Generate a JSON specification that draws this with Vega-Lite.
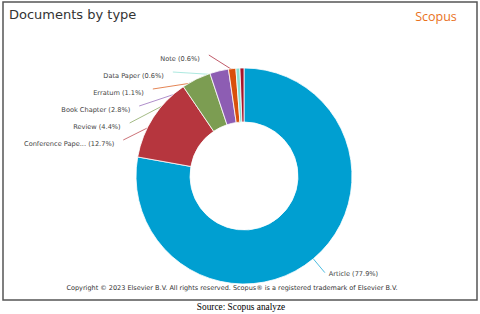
{
  "$schema": "https://vega.github.io/schema/vega-lite/v6.json",
  "autosize": {"type": "none"},
  "padding": {"left": 3, "top": 2, "right": 3, "bottom": 14},
  "width": 474,
  "height": 298,
  "background": "white",
  "config": {"view": {"stroke": "#555", "strokeWidth": 1.5}},
  "title": {"text": "Documents by type", "anchor": "start", "frame": "group", "orient": "top", "offset": 0, "dx": 6, "dy": 20, "font": "DejaVu Sans", "fontSize": 13, "fontWeight": "normal", "color": "#333"},
  "layer": [
    {
      "data": {"values": [
        {"type": "Article", "label": "Article (77.9%)", "pct": 77.9},
        {"type": "Conference Paper", "label": "Conference Pape... (12.7%)", "pct": 12.7},
        {"type": "Review", "label": "Review (4.4%)", "pct": 4.4},
        {"type": "Book Chapter", "label": "Book Chapter (2.8%)", "pct": 2.8},
        {"type": "Erratum", "label": "Erratum (1.1%)", "pct": 1.1},
        {"type": "Data Paper", "label": "Data Paper (0.6%)", "pct": 0.6},
        {"type": "Note", "label": "Note (0.6%)", "pct": 0.6}
      ]},
      "transform": [
        {"window": [{"op": "row_number", "as": "rank"}]},
        {"window": [{"op": "sum", "field": "pct", "as": "cum"}], "sort": [{"field": "rank"}], "frame": [null, 0]},
        {"joinaggregate": [{"op": "sum", "field": "pct", "as": "total"}]},
        {"calculate": "(datum.cum - datum.pct/2) / datum.total * 2 * PI", "as": "mid"},
        {"calculate": "100 * sin(datum.mid)", "as": "ax"},
        {"calculate": "100 * cos(datum.mid)", "as": "ay"},
        {"calculate": "datum.mid < PI ? 'right' : 'left'", "as": "side"},
        {"calculate": "datum.side == 'right' ? 126 * cos(datum.mid) : 36 + 17 * (datum.rank - 2)", "as": "ly"},
        {"calculate": "(datum.side == 'right' ? 1 : -1) * sqrt(max(126*126 - datum.ly*datum.ly, 0))", "as": "lx"}
      ],
      "layer": [
        {
          "mark": {"type": "rule", "strokeWidth": 0.7},
          "encoding": {
            "x": {"field": "lx", "type": "quantitative", "scale": {"domain": [-241, 233], "nice": false, "zero": false}, "axis": null},
            "y": {"field": "ly", "type": "quantitative", "scale": {"domain": [-124, 174], "nice": false, "zero": false}, "axis": null},
            "x2": {"field": "ax"},
            "y2": {"field": "ay"},
            "color": {"field": "type", "type": "nominal", "legend": null,
              "scale": {"domain": ["Article", "Conference Paper", "Review", "Book Chapter", "Erratum", "Data Paper", "Note"],
                        "range": ["#009FD1", "#B6363E", "#7C9D52", "#8D5DB3", "#D9500B", "#89E0D2", "#A5142A"]}}
          }
        },
        {
          "mark": {"type": "arc", "radius": 108, "radius2": 54, "stroke": "white", "strokeWidth": 0.8},
          "encoding": {
            "x": {"datum": 0, "type": "quantitative", "scale": {"domain": [-241, 233], "nice": false, "zero": false}, "axis": null},
            "y": {"datum": 0, "type": "quantitative", "scale": {"domain": [-124, 174], "nice": false, "zero": false}, "axis": null},
            "theta": {"field": "pct", "type": "quantitative", "stack": true},
            "order": {"field": "rank", "type": "quantitative"},
            "color": {"field": "type", "type": "nominal", "legend": null}
          }
        },
        {
          "transform": [{"filter": "datum.side == 'left'"}],
          "mark": {"type": "text", "align": "right", "baseline": "middle", "dx": -9, "dy": 3.5, "font": "DejaVu Sans", "fontSize": 6.6, "color": "#444"},
          "encoding": {
            "x": {"field": "lx", "type": "quantitative", "scale": {"domain": [-241, 233], "nice": false, "zero": false}, "axis": null},
            "y": {"field": "ly", "type": "quantitative", "scale": {"domain": [-124, 174], "nice": false, "zero": false}, "axis": null},
            "text": {"field": "label"}
          }
        },
        {
          "transform": [{"filter": "datum.side == 'right'"}],
          "mark": {"type": "text", "align": "left", "baseline": "middle", "dx": 4, "dy": 1.5, "font": "DejaVu Sans", "fontSize": 6.6, "color": "#444"},
          "encoding": {
            "x": {"field": "lx", "type": "quantitative", "scale": {"domain": [-241, 233], "nice": false, "zero": false}, "axis": null},
            "y": {"field": "ly", "type": "quantitative", "scale": {"domain": [-124, 174], "nice": false, "zero": false}, "axis": null},
            "text": {"field": "label"}
          }
        }
      ]
    },
    {
      "data": {"values": [{"t": "Scopus"}]},
      "mark": {"type": "text", "x": 433, "y": 15, "align": "center", "baseline": "middle", "font": "Open Sans", "fontSize": 12.5, "color": "#E9711C"},
      "encoding": {"text": {"field": "t"}}
    },
    {
      "data": {"values": [{"t": "Copyright © 2023 Elsevier B.V. All rights reserved. Scopus® is a registered trademark of Elsevier B.V."}]},
      "mark": {"type": "text", "x": 229, "y": 286, "align": "center", "baseline": "middle", "font": "DejaVu Sans", "fontSize": 6.5, "color": "#333"},
      "encoding": {"text": {"field": "t"}}
    },
    {
      "data": {"values": [{"t": "Source: Scopus analyze"}]},
      "mark": {"type": "text", "x": 238, "y": 305, "align": "center", "baseline": "middle", "font": "Liberation Serif", "fontSize": 9.3, "color": "#000"},
      "encoding": {"text": {"field": "t"}}
    }
  ]
}
